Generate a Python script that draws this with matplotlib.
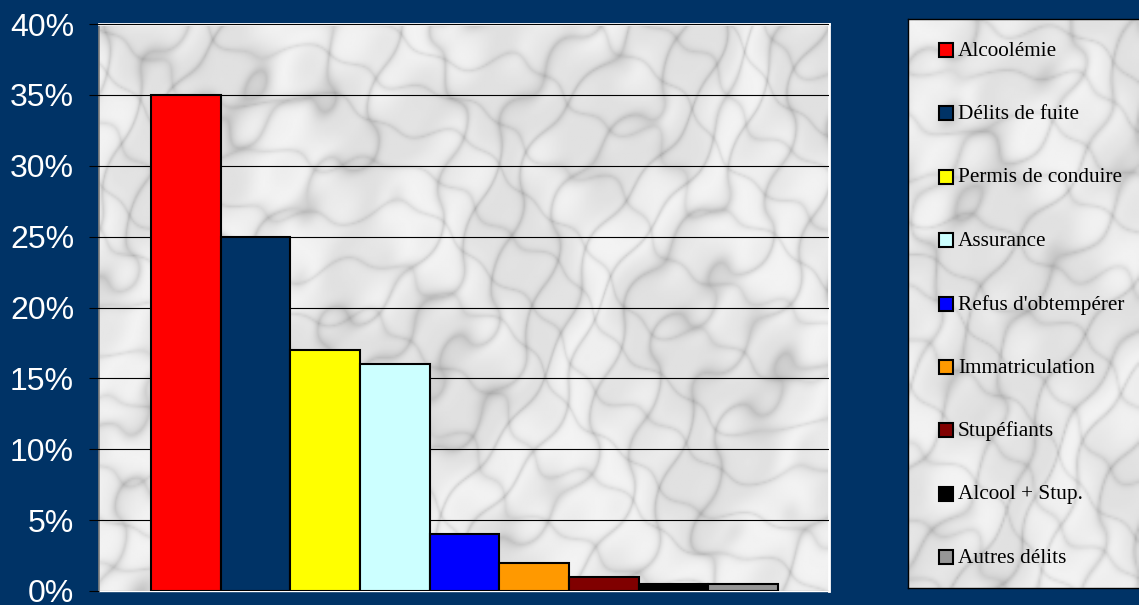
import numpy as np
import matplotlib
matplotlib.use("Agg")
import matplotlib.pyplot as plt
from matplotlib.patches import Rectangle

categories = ['Alcoolémie', 'Délits de fuite', 'Permis de conduire', 'Assurance',
              "Refus d'obtempérer", 'Immatriculation', 'Stupéfiants',
              'Alcool + Stup.', 'Autres délits']
values = [35, 25, 17, 16, 4, 2, 1, 0.5, 0.5]
colors = ['#FF0000', '#003366', '#FFFF00', '#CCFFFF', '#0000FF',
          '#FF9900', '#800000', '#000000', '#969696']
yticks = [0, 5, 10, 15, 20, 25, 30, 35, 40]
ytick_labels = [f'{t}%' for t in yticks]

W, H = 1139, 605
BG = '#003366'


def rect(l, t, r, b):
    return [l / W, 1 - b / H, (r - l) / W, (b - t) / H]


def marble(h, w, shift=0.0, sx=1.0, sy=1.0):
    yy, xx = np.mgrid[0:sy:h * 1j, 0:sx:w * 1j]
    turb = np.zeros_like(xx)
    params = [(2.1, 1.3, 0.3), (4.3, -2.9, 1.1), (7.7, 5.1, 2.3),
              (13.3, -9.9, 0.7), (21.1, 17.7, 1.9)]
    for k, (a, b, p) in enumerate(params):
        turb += np.sin(a * xx * 2 + b * yy * 2 + p + shift) / (k + 1) ** 1.2
    v = np.sin((xx * 3.0 + yy * 1.6) * np.pi * 2.5 + turb * 2.5)
    v2 = np.sin((xx * 1.2 - yy * 2.4) * np.pi * 3.5 + turb * 2.0 + 1.3)
    g = (0.915 - 0.13 * (1 - np.abs(v)) ** 4 - 0.09 * (1 - np.abs(v2)) ** 5
         + 0.035 * np.sin(turb * 3.3 + 0.5))
    return np.clip(g, 0, 1)


fig = plt.figure(figsize=(W / 100, H / 100), dpi=100, facecolor=BG)

ax = fig.add_axes(rect(99, 24, 829, 591))
n = len(values)
pos = np.arange(n)
xmin, xmax = -1.246, 9.23
ax.imshow(marble(300, 600, 0.0, 1.6, 1.2), extent=(xmin, xmax, 0, 40),
          aspect='auto', cmap='gray', vmin=0, vmax=1, zorder=0,
          interpolation='bilinear')
ax.bar(pos, values, width=1.0, color=colors, edgecolor='black',
       linewidth=1.5, zorder=3)
ax.set_xlim(xmin, xmax)
ax.set_ylim(0, 40)
ax.set_yticks(yticks)
ax.set_yticklabels(ytick_labels)
ax.set_xticks([])
ax.yaxis.grid(True, color='black', linewidth=0.8, zorder=1)
ax.set_axisbelow(False)
for gl in ax.get_ygridlines():
    gl.set_zorder(1)
ax.tick_params(axis='y', direction='out', length=7, width=0.8, color='black',
               labelcolor='white', labelsize=23, pad=11)
for lbl in ax.get_yticklabels():
    lbl.set_fontfamily('Liberation Sans')
ax.spines['left'].set_color('#808080')
ax.spines['left'].set_linewidth(1.2)
ax.spines['top'].set_color('white')
ax.spines['top'].set_linewidth(2)
ax.spines['right'].set_color('white')
ax.spines['right'].set_linewidth(2)
ax.spines['bottom'].set_color('white')
ax.spines['bottom'].set_linewidth(1)

# legend box
lax = fig.add_axes(rect(908, 19, 1139, 588))
lax.set_xlim(908, 1139)
lax.set_ylim(588, 19)
lax.imshow(marble(250, 110, 2.0, 0.5, 1.2), extent=(908, 1139, 588, 19),
           aspect='auto', cmap='gray', vmin=0, vmax=1, zorder=0,
           interpolation='bilinear')
lax.set_xticks([])
lax.set_yticks([])
for s in ['left', 'top', 'bottom']:
    lax.spines[s].set_color('black')
    lax.spines[s].set_linewidth(1)
lax.spines['right'].set_visible(False)
for i, (lab, c) in enumerate(zip(categories, colors)):
    yc = 50 + 63.4 * i
    lax.add_patch(Rectangle((938.5, yc - 7), 14, 14, facecolor=c,
                            edgecolor='black', linewidth=1.5, zorder=3))
    lax.text(958, yc + 1, lab, va='center', ha='left', fontsize=15.3,
             family='Liberation Serif', color='black', zorder=4)

fig.savefig('out.png', dpi=100, facecolor=BG)
